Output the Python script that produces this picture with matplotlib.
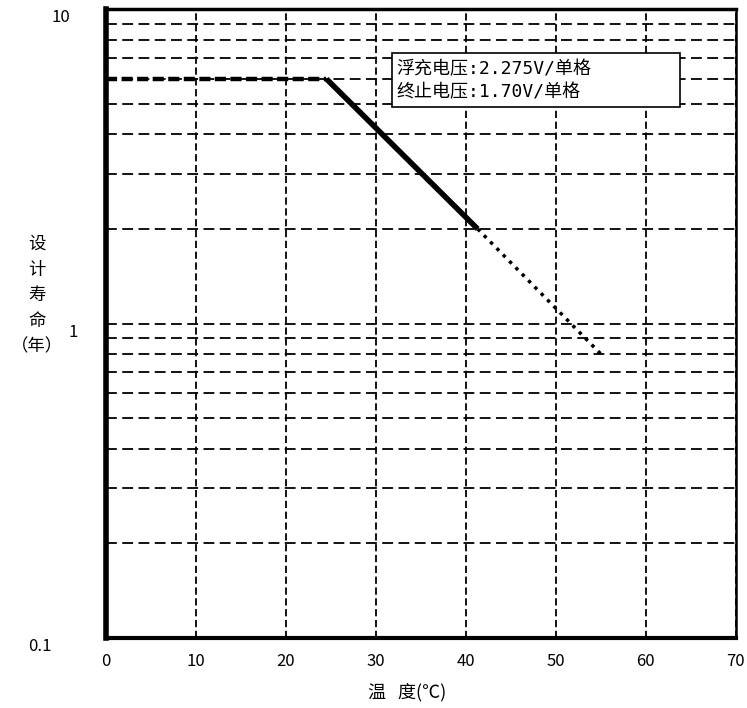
import matplotlib.pyplot as plt
from matplotlib.patches import Rectangle

plt.rcParams['font.family'] = ['Noto Sans CJK SC', 'DejaVu Sans']
mono = ['DejaVu Sans Mono', 'Noto Sans CJK SC']

# design life vs temperature (float 2.275V/cell, end 1.70V/cell)
temp_flat = [0, 24.5]
life_flat = [6, 6]
temp_solid = [24.5, 41.3]
life_solid = [6, 2]
temp_dot = [41.3, 55]
life_dot = [2, 0.8]

x_ticks = [0, 10, 20, 30, 40, 50, 60, 70]
y_ticks = [0.1, 1, 10]
y_ticklabels = ['0.1', '1', '10']
y_minor = [0.2, 0.3, 0.4, 0.5, 0.6, 0.7, 0.8, 0.9, 2, 3, 4, 5, 6, 7, 8, 9]

fig = plt.figure(figsize=(7.47, 7.08), dpi=100)
ax = fig.add_axes([0.142, 0.099, 0.843, 0.888])

ax.plot(temp_flat, life_flat, color='black', lw=3.2, ls=(0, (2.5, 1)), zorder=3)
ax.plot(temp_solid, life_solid, color='black', lw=4, solid_capstyle='butt', zorder=3)
ax.plot(temp_dot, life_dot, color='black', lw=2.5, ls=(0, (1, 1.6)), zorder=3)

ax.set_yscale('log')
ax.set_xlim(0, 70)
ax.set_ylim(0.1, 10)
ax.set_xticks(x_ticks)
ax.set_yticks(y_ticks)
ax.set_yticklabels([])
ax.set_yticks(y_minor, minor=True)
ax.yaxis.set_minor_formatter(plt.NullFormatter())
ax.tick_params(axis='both', which='both', length=0)
ax.tick_params(axis='x', pad=11, labelsize=12)

# y tick labels sit a little below their grid line, uneven offsets as in the source
label_x = [-0.086, -0.044, -0.057]
for yv, lab, lx in zip(y_ticks, y_ticklabels, label_x):
    ax.text(lx, yv, lab, transform=ax.get_yaxis_transform(), ha='right', va='top',
            fontsize=12)

ax.grid(True, which='both', axis='y', color='black', lw=1.3, ls=(0, (6, 3)))
ax.grid(True, which='major', axis='x', color='black', lw=1.3, ls=(0, (4, 2)))

for side, w in [('left', 4), ('bottom', 3), ('top', 2.5), ('right', 1.8)]:
    ax.spines[side].set_linewidth(w)
    ax.spines[side].set_zorder(4)

ax.set_xlabel('温   度(℃)', fontsize=13)
ax.xaxis.set_label_coords(0.478, -0.072)
ax.text(-0.110, 0.545, '设\n计\n寿\n命\n（年）', transform=ax.transAxes,
        ha='center', va='center', fontsize=12.5, linespacing=1.55)

ax.add_patch(Rectangle((0.454, 0.844), 0.457, 0.086, transform=ax.transAxes,
                       facecolor='white', edgecolor='black', lw=1.2, zorder=5))
ax.text(0.461, 0.886, '浮充电压:2.275V/单格\n终止电压:1.70V/单格', transform=ax.transAxes,
        ha='left', va='center', fontsize=13, linespacing=1.35, zorder=6,
        family=mono)

fig.savefig('out.png', dpi=100, facecolor='white')
